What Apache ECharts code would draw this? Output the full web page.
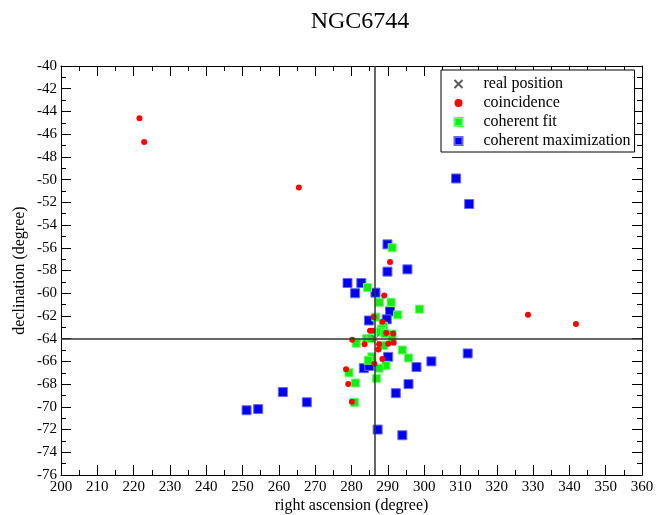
<!DOCTYPE html>
<html>
<head>
<meta charset="utf-8">
<script src="https://cdn.jsdelivr.net/npm/echarts@6/dist/echarts.min.js"></script>
<style>
  html, body { margin: 0; padding: 0; background: #fff; }
  #chart { width: 658px; height: 515px; }
</style>
</head>
<body>
<div id="chart"></div>
<script>
// real source position
const realPosition = [[286.5, -64]];

// coincidence detections [ra, dec]
const coincidence = [
  [221.6, -44.6], [222.9, -46.7], [265.5, -50.7], [328.6, -61.9], [341.8, -62.7],
  [290.6, -57.25], [289.0, -60.2], [286.1, -62.1], [288.5, -62.5], [285.1, -63.3],
  [285.8, -63.3], [289.6, -63.5], [291.5, -63.55], [280.2, -64.1], [283.6, -64.5],
  [287.6, -64.5], [290.1, -64.45], [291.6, -64.35], [287.4, -64.95], [288.5, -65.8],
  [286.3, -66.2], [278.5, -66.7], [279.1, -68.0], [280.1, -69.55]
];

// coherent fit [ra, dec]
const coherentFit = [
  [291.2, -56.0], [284.4, -59.5], [287.7, -60.8], [290.9, -60.8], [298.7, -61.4],
  [292.7, -61.9], [286.7, -62.1], [288.8, -62.9], [288.3, -63.15], [288.0, -63.4],
  [291.1, -63.6], [289.2, -63.55], [284.2, -64.0], [285.3, -64.0], [291.2, -64.0],
  [281.3, -64.4], [288.8, -64.6], [294.0, -65.0], [295.7, -65.7], [285.6, -65.6],
  [284.6, -65.9], [289.5, -66.35], [287.6, -66.6], [279.3, -67.0], [286.9, -67.5],
  [281.1, -67.9], [280.8, -69.6]
];

// coherent maximization [ra, dec]
const coherentMax = [
  [308.8, -49.9], [312.4, -52.15], [289.9, -55.7], [289.9, -58.1], [295.4, -57.9],
  [278.9, -59.1], [282.7, -59.1], [281.0, -60.0], [286.6, -59.95], [290.6, -61.6],
  [284.8, -62.4], [289.7, -62.3], [290.1, -65.6], [283.4, -66.6], [284.9, -66.4],
  [297.9, -66.5], [302.0, -66.0], [312.0, -65.3], [295.7, -68.0], [292.2, -68.8],
  [261.1, -68.7], [267.7, -69.6], [254.3, -70.2], [251.1, -70.3], [287.2, -72.0],
  [294.0, -72.5]
];

const xMin = 200, xMax = 360, xStep = 10;
const yMin = -76, yMax = -40, yStep = 2;

const serif = "Liberation Serif";
const crossPath = "path://M0,0L10,10M10,0L0,10";

const chart = echarts.init(document.getElementById("chart"));

const baseAxis = {
  axisLine: { show: true, onZero: false, lineStyle: { color: "#000", width: 1 } },
  axisTick: { show: true, inside: true, length: 10, lineStyle: { color: "#000" } },
  minorTick: { show: true, splitNumber: 2, length: 5, lineStyle: { color: "#000" } },
  splitLine: { show: false },
};

const option = {
  animation: false,
  backgroundColor: "#fff",
  title: {
    text: "NGC6744",
    left: 355,
    top: 5,
    textAlign: "center",
    textStyle: { fontFamily: serif, fontSize: 24, fontWeight: "normal", color: "#000" },
  },
  grid: { left: 61, right: 16, top: 66, bottom: 40, outerBoundsMode: "none" },
  legend: {
    orient: "vertical",
    left: 441,
    top: 70,
    padding: [6, 4, 3, 11],
    itemGap: 3,
    itemWidth: 8,
    itemHeight: 8,
    borderColor: "#000",
    borderWidth: 1,
    backgroundColor: "#fff",
    textStyle: { fontFamily: serif, fontSize: 16, color: "#000", padding: [0, 0, 0, 16] },
    data: ["real position", "coincidence", "coherent fit", "coherent maximization"],
  },
  xAxis: [
    Object.assign({}, baseAxis, {
      type: "value",
      min: xMin, max: xMax, interval: xStep,
      position: "bottom",
      name: "right ascension (degree)",
      nameLocation: "middle",
      nameGap: 23,
      nameMoveOverlap: false,
      nameTextStyle: { fontFamily: serif, fontSize: 16, color: "#000" },
      axisLabel: { fontFamily: serif, fontSize: 15, color: "#000", margin: 5 },
    }),
    Object.assign({}, baseAxis, {
      type: "value",
      min: xMin, max: xMax, interval: xStep,
      position: "top",
      axisLabel: { show: false },
    }),
  ],
  yAxis: [
    Object.assign({}, baseAxis, {
      type: "value",
      min: yMin, max: yMax, interval: yStep,
      position: "left",
      name: "declination (degree)",
      nameLocation: "middle",
      nameGap: 33,
      nameMoveOverlap: false,
      nameTextStyle: { fontFamily: serif, fontSize: 16, color: "#000" },
      axisLabel: { fontFamily: serif, fontSize: 15, color: "#000", margin: 4 },
    }),
    Object.assign({}, baseAxis, {
      type: "value",
      min: yMin, max: yMax, interval: yStep,
      position: "right",
      axisLabel: { show: false },
    }),
  ],
  series: [
    {
      name: "real position",
      type: "scatter",
      data: realPosition,
      symbol: crossPath,
      symbolSize: 7,
      itemStyle: { color: "none", borderColor: "#333", borderWidth: 1 },
      z: 5,
      markLine: {
        silent: true,
        symbol: ["none", "none"],
        label: { show: false },
        lineStyle: { color: "#333", width: 1.5, type: "solid" },
        data: [{ xAxis: realPosition[0][0] }, { yAxis: realPosition[0][1] }],
      },
    },
    {
      name: "coincidence",
      type: "scatter",
      data: coincidence,
      symbol: "circle",
      symbolSize: 6,
      itemStyle: { color: "#ff0000", opacity: 1 },
      z: 3,
    },
    {
      name: "coherent fit",
      type: "scatter",
      data: coherentFit,
      symbol: "rect",
      symbolSize: 8,
      itemStyle: { color: "#11ee11", borderColor: "#66ff66", borderWidth: 1, opacity: 1 },
      z: 2,
    },
    {
      name: "coherent maximization",
      type: "scatter",
      data: coherentMax,
      symbol: "rect",
      symbolSize: 9,
      itemStyle: { color: "#0000ee", borderColor: "#6666ff", borderWidth: 1, opacity: 1 },
      z: 1,
    },
  ],
};

chart.setOption(option);
</script>
</body>
</html>
